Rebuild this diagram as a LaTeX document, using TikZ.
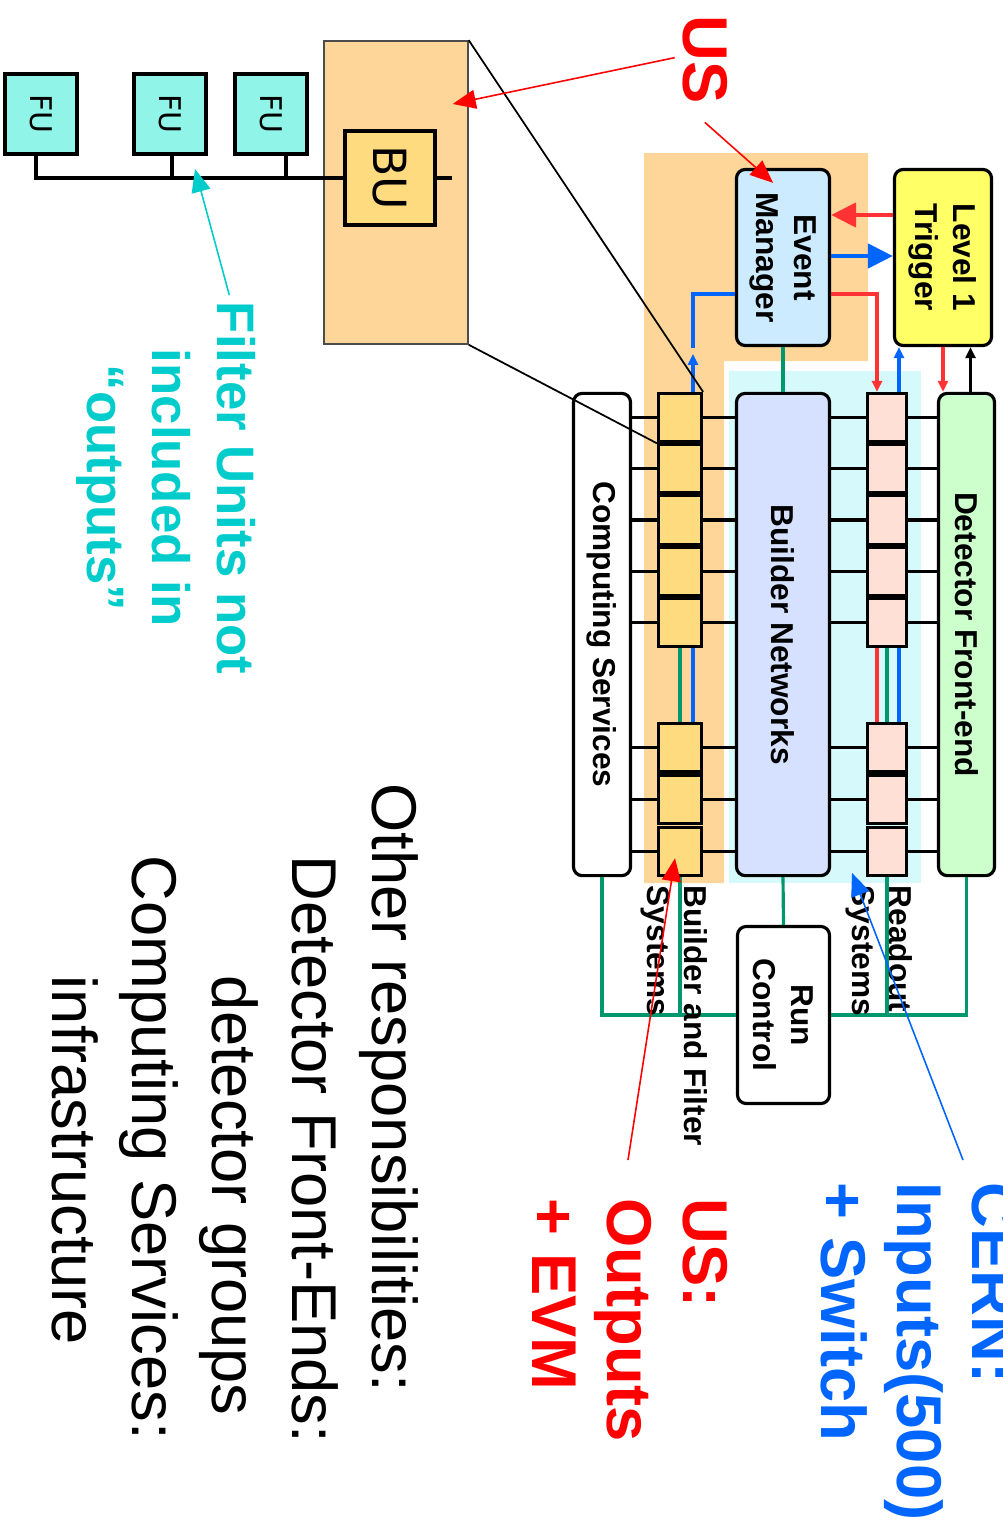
\documentclass[tikz,border=0pt]{standalone}
\usepackage{fontspec}
\setmainfont{Liberation Sans}
\newfontfamily\unitfont{DejaVu Sans}
\usepackage{tikz}
\usetikzlibrary{arrows.meta,calc}

\definecolor{peach}{RGB}{255,214,153}
\definecolor{bfyellow}{RGB}{255,219,128}
\definecolor{fucyan}{RGB}{144,245,232}
\definecolor{emblue}{RGB}{204,235,255}
\definecolor{trigyellow}{RGB}{255,255,102}
\definecolor{fegreen}{RGB}{204,255,204}
\definecolor{netblue}{RGB}{214,225,255}
\definecolor{ropink}{RGB}{255,224,214}
\definecolor{rocyan}{RGB}{214,249,251}
\definecolor{rcgreen}{RGB}{0,150,110}
\definecolor{usred}{RGB}{255,0,0}
\definecolor{arrred}{RGB}{255,51,51}
\definecolor{cernblue}{RGB}{0,102,255}
\definecolor{futeal}{RGB}{0,204,204}

\begin{document}
\begin{tikzpicture}[
    x=0.01cm, y=0.01cm, rotate=-90, transform shape,
    block/.style={draw, line width=0.9pt, rounded corners=2.5pt, align=center,
                  inner sep=0pt, font=\bfseries\fontsize{9}{10.8}\selectfont},
    slot/.style={draw, line width=0.9pt, inner sep=0pt, minimum width=0.482cm},
    unitbox/.style={draw, line width=1.1pt, inner sep=0pt,
                    font=\unitfont\fontsize{8.5}{10}\selectfont},
    link/.style={line width=0.9pt},
    ctrl/.style={rcgreen, line width=0.9pt},
    bigarrow/.style={line width=1.3pt, -{Triangle[length=2.5mm,width=2.4mm]}},
    flow/.style={line width=0.9pt, -{Triangle[length=1.1mm,width=1mm]}},
    note/.style={line width=0.45pt, -{Triangle[length=2.3mm,width=1.9mm]}},
    syslabel/.style={inner sep=0pt, align=left, font=\bfseries\fontsize{9}{10.5}\selectfont},
    bignote/.style={inner sep=0pt, font=\bfseries\fontsize{18}{21.5}\selectfont}
  ]
    \useasboundingbox (0,0) rectangle (1527,1003);

    % shaded areas
    \fill[peach] (153,644) -- (153,868) -- (361,868) -- (361,724)
                 -- (883,724) -- (883,644) -- cycle;
    \fill[rocyan] (371,729) rectangle (883,921);

    % main blocks
    \node[block, fill=emblue, minimum width=1.76cm, minimum height=0.93cm] (em) at (257.5,783) {Event\\Manager};
    \node[block, fill=trigyellow, minimum width=1.76cm, minimum height=0.97cm] (lvl1) at (257.5,943) {Level 1\\Trigger};
    \node[block, fill=fegreen, minimum width=4.82cm, minimum height=0.56cm] (dfe) at (634.5,966.5) {Detector Front-end};
    \node[block, fill=netblue, minimum width=4.82cm, minimum height=0.93cm] (bn) at (634.5,783) {Builder Networks};
    \node[block, fill=white, minimum width=4.82cm, minimum height=0.57cm] (cs) at (634.5,602) {Computing Services};
    \node[block, fill=white, minimum width=1.77cm, minimum height=0.92cm] (rc) at (1015,783.5) {Run\\Control};

    % builder/filter and readout units
    \foreach \i/\x in {1/417.6, 2/468.8, 3/520, 4/571.2, 5/622.4, 6/747.8, 7/799.5, 8/851.2} {
      \node[slot, fill=bfyellow, minimum height=0.43cm] (bf\i) at (\x,680) {};
      \node[slot, fill=ropink, minimum height=0.39cm] (ro\i) at (\x,887) {};
    }

    % zoom on one builder unit
    \node[draw=gray!60!black, line width=0.4pt, fill=peach, inner sep=0pt,
          minimum width=3.03cm, minimum height=1.44cm] (buOuter) at (192.5,396) {};
    \node[unitbox, fill=bfyellow, minimum width=0.94cm, minimum height=0.90cm,
          font=\unitfont\fontsize{13}{15}\selectfont] (bu) at (178,390) {BU};
    \foreach \fu/\y in {A/41, B/170, C/271}
      \node[unitbox, fill=fucyan, minimum width=0.80cm, minimum height=0.72cm] (fu\fu) at (114,\y) {FU};

    \draw[line width=1.1pt] ($(fuA.east)+(0,-5)$) -| (bu.south);
    \coordinate (tapB) at ($(fuB.east)+(0,2)$);
    \coordinate (tapC) at ($(fuC.east)+(0,15)$);
    \draw[line width=1.1pt] (tapB) -- (tapB -| bu.south);
    \draw[line width=1.1pt] (tapC) -- (tapC -| bu.south);
    \draw[line width=1.1pt] (bu.north) -- ++(0,15);

    % data links
    \foreach \i in {1,...,8} {
      \draw[link] (bf\i.south) -- (bf\i.south |- cs.north);
      \draw[link] (bf\i.north) -- (bf\i.north |- bn.south);
      \draw[link] (ro\i.south) -- (ro\i.south |- bn.north);
      \draw[link] (ro\i.north) -- (ro\i.north |- dfe.south);
    }

    % run control
    \draw[ctrl] (em.east) -- (bn.west);
    \draw[ctrl] (bn.east) -- (rc.west);
    \draw[ctrl] (cs.east) -| (rc.south);
    \draw[ctrl] (dfe.east) -| (rc.north);
    \draw[ctrl] (bf8.east) -- (bf8.east -| rc.south);
    \draw[ctrl] (ro8.east) -- (ro8.east -| rc.north);
    \draw[ctrl] (bf5.east) -- (bf6.west);
    \draw[ctrl] (ro5.east) -- (ro6.west);
    \draw[link, cernblue] ($(bf5.east)+(0,13)$) -- ($(bf6.west)+(0,13)$);
    \draw[link, arrred] ($(ro5.east)+(0,-10)$) -- ($(ro6.west)+(0,-10)$);
    \draw[link, cernblue] ($(ro5.east)+(0,12)$) -- ($(ro6.west)+(0,12)$);

    % trigger and event manager
    \draw[bigarrow, arrred] ($(lvl1.south)+(-42.5,0)$) -- ($(em.north)+(-42.5,0)$);
    \draw[bigarrow, cernblue] ($(em.north)+(-1.5,0)$) -- ($(lvl1.south)+(-1.5,0)$);
    \draw[flow, arrred] ($(em.north)+(36.5,0)$) |- ($(ro1.west)+(0,-10)$);
    \draw[flow, cernblue] ($(bf1.west)+(0,13)$) -- ($(bf1.west)+(-38,13)$);
    \draw[link, cernblue] ($(bf1.west)+(-44,13)$) -| ($(em.south)+(36.5,0)$);
    \coordinate (roUp) at ($(ro1.west)+(0,12)$);
    \draw[flow, cernblue] (roUp) -- (roUp -| lvl1.east);
    \draw[flow, arrred] (lvl1.east) -- (dfe.west |- lvl1.east);
    \coordinate (feUp) at ($(dfe.west)+(0,4)$);
    \draw[flow, black] (feUp) -- (feUp -| lvl1.east);

    \draw[line width=0.5pt] (buOuter.north west) -- (bf1.north west);
    \draw[line width=0.5pt] (buOuter.north east) -- (bf1.south east);

    % labels
    \node[syslabel, anchor=west] (roLab) at (885,879) {Readout\\Systems};
    \node[syslabel, anchor=west] (bfLab) at (885,674) {Builder and Filter\\Systems};

    \node[bignote, anchor=base west, text=usred] (usTop) at (15,683) {US};
    \node[bignote, anchor=west, align=left, text=usred] (usOut) at (1198,630) {US:\\Outputs\\+ EVM};
    \node[bignote, anchor=west, align=left, text=cernblue] (cern) at (1182,919) {CERN:\\Inputs(500)\\+ Switch};
    \node[inner sep=0pt, align=center, text=futeal,
          font=\bfseries\fontsize{15}{18.5}\selectfont] (fuNote) at (488,166) {Filter Units not\\included in\\“outputs”};
    \node[inner sep=0pt, anchor=west, align=left, font=\fontsize{18}{22.8}\selectfont] (others) at (783,235)
      {Other responsibilities:\\\hspace*{0.72cm}Detector Front-Ends:\\\hspace*{1.92cm}detector groups\\
       \hspace*{0.72cm}Computing Services:\\\hspace*{1.92cm}infrastructure};

    % who does what
    \draw[note, usred] ($(usTop.south)+(-2,-7)$) -- ($(buOuter.north)+(-88.5,-16)$);
    \draw[note, usred] ($(usTop.east)+(18,0)$) -- ($(em.north west)+(15,-58)$);
    \draw[note, usred] ($(usOut.west)+(-38,-2)$) -- ($(bf8.center)+(7,-5)$);
    \draw[note, cernblue] ($(cern.west)+(-22,44)$) -- ($(ro8.east)+(-4,-35)$);
    \draw[note, futeal] ($(fuNote.north west)+(-6,-27)$) -- ($(fuB.east)+(13,25)$);
  \end{tikzpicture}
\end{document}
